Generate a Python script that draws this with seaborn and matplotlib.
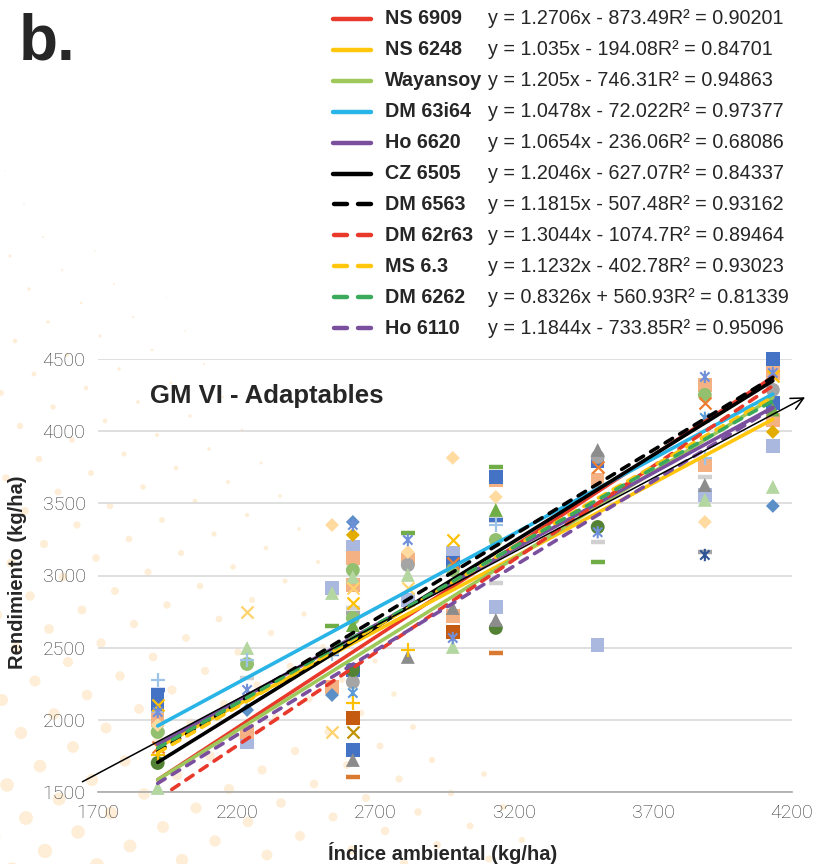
import numpy as np
import pandas as pd
import matplotlib
matplotlib.use("Agg")
import matplotlib.pyplot as plt
import seaborn as sns
from matplotlib.lines import Line2D
from matplotlib.path import Path

nan = np.nan

# ---------------- data ----------------
env_index = [1915, 2237, 2543, 2618, 2816, 2978, 3133, 3500, 3886, 4131]

varieties = ["NS 6909", "NS 6248", "Wayansoy", "DM 63i64", "Ho 6620", "CZ 6505",
             "DM 6563", "DM 62r63", "MS 6.3", "DM 6262", "Ho 6110"]
slopes = [1.2706, 1.035, 1.205, 1.0478, 1.0654, 1.2046, 1.1815, 1.3044, 1.1232, 0.8326, 1.1844]
intercepts = [-873.49, -194.08, -746.31, -72.022, -236.06, -627.07, -507.48, -1074.7, -402.78, 560.93, -733.85]
r_squared = [0.90201, 0.84701, 0.94863, 0.97377, 0.68086, 0.84337, 0.93162, 0.89464, 0.93023, 0.81339, 0.95096]

# trend line values as drawn in the chart, at the lowest and highest environment
trend_start = [1585, 1809, 1585, 1958, 1830, 1705, 1779, 1452, 1771, 1805, 1560]
trend_end = [4375, 4082, 4232, 4257, 4165, 4349, 4373, 4314, 4237, 4210, 4159]

# observed yields (kg/ha) per marker series, one value per environment
blue_square      = [2150, nan, nan, 1791, nan, 3090, 3683, 3790, nan, 4500]
blue_square_b    = [2110, nan, nan, 2345, nan, nan, nan, nan, nan, 4196]
salmon_square    = [1999, 1916, 2228, 3122, 3110, 2720, 3660, 3662, 4320, 4403]
salmon_square_b  = [nan, nan, nan, 2934, nan, nan, nan, nan, 3766, 4078]
periwinkle_square = [2020, 1847, 2914, 3198, 2830, 3156, 2782, 2519, 3558, 3898]
brown_square     = [nan, nan, nan, 2013, nan, 2609, nan, nan, nan, nan]
gray_circle      = [nan, nan, nan, 2262, 3073, nan, nan, 3822, nan, 4286]
green_circle     = [1916, 2387, nan, 3038, nan, 3038, 3246, nan, 4251, nan]
green_circle_b   = [nan, nan, nan, 2706, nan, nan, nan, nan, nan, nan]
dkgreen_circle   = [1701, nan, nan, 2345, nan, nan, 2637, 3336, nan, nan]
gold_x           = [2103, nan, nan, 2810, nan, 3246, nan, nan, nan, 4380]
ltgold_x         = [nan, 2747, 1916, 2914, 2914, nan, nan, nan, nan, nan]
dkgold_x         = [nan, nan, nan, 1916, nan, nan, nan, nan, nan, nan]
orange_x         = [1812, nan, nan, nan, nan, 3087, nan, 3752, 4196, nan]
blue_asterisk    = [2054, 2207, nan, 3350, 3246, 2567, nan, 3300, 4376, 4403]
ltblue_asterisk  = [nan, nan, nan, 2186, nan, nan, nan, nan, 4092, nan]
dkblue_asterisk  = [nan, nan, nan, nan, nan, nan, nan, nan, 3142, nan]
ltblue_plus      = [2276, 2415, 2456, nan, nan, nan, 3350, nan, 3815, nan]
gold_plus        = [1756, nan, nan, 2117, 2484, nan, nan, nan, nan, nan]
ltyellow_diamond = [1964, nan, 3350, nan, 3163, 3815, 3544, nan, 3371, nan]
gold_diamond     = [nan, nan, nan, 3281, nan, nan, nan, nan, nan, 3995]
blue_diamond     = [nan, 2068, 2172, 3371, nan, nan, nan, nan, nan, 3482]
ltgreen_triangle = [1528, 2498, 2879, 2990, 3004, 2505, nan, nan, 3524, 3614]
gray_triangle    = [nan, nan, nan, 1722, 2436, 2775, 2692, 3870, 3627, nan]
green_triangle   = [nan, nan, nan, 2657, nan, nan, 3454, nan, nan, 4150]
ltgray_dash      = [1916, 2290, nan, 2775, nan, 2740, 2948, 3232, 3683, nan]
gray_dash        = [nan, nan, nan, 2740, nan, nan, 3385, nan, 3160, nan]
orange_dash      = [nan, nan, nan, 1604, 3110, nan, 2463, nan, nan, nan]
green_dash       = [nan, nan, 2650, nan, 3295, nan, 3752, 3094, nan, nan]
blue_dash        = [2207, nan, 2456, nan, nan, nan, 3385, nan, nan, nan]

# 1:1 reference arrow (x, y in kg/ha)
ref_start = (1635, 1562)
ref_end = (4256, 4244)

x_ticks = [1700, 2200, 2700, 3200, 3700, 4200]
y_ticks = [1500, 2000, 2500, 3000, 3500, 4000, 4500]

# ---------------- styles ----------------
asterisk = Path([(0, -1), (0, 1), (-0.75, -0.75), (0.75, 0.75), (-0.75, 0.75), (0.75, -0.75)],
                [Path.MOVETO, Path.LINETO] * 3)

marker_series = [
    (ltgray_dash, "_", "#D0D0D0", 110, 3.2),
    (gray_dash, "_", "#A5A5A5", 110, 3.2),
    (orange_dash, "_", "#DA7A30", 110, 3.2),
    (green_dash, "_", "#70AD47", 110, 3.2),
    (blue_dash, "_", "#4472C4", 110, 3.2),
    (periwinkle_square, "s", "#AAB8E0", 95, 0),
    (salmon_square, "s", "#F4B183", 95, 0),
    (salmon_square_b, "s", "#F4B183", 95, 0),
    (blue_square, "s", "#4472C4", 95, 0),
    (blue_square_b, "s", "#4472C4", 95, 0),
    (brown_square, "s", "#C55A11", 95, 0),
    (gray_circle, "o", "#A5A5A5", 100, 0),
    (green_circle, "o", "#92C06E", 100, 0),
    (green_circle_b, "o", "#92C06E", 100, 0),
    (dkgreen_circle, "o", "#548235", 100, 0),
    (ltyellow_diamond, "D", "#FFDBA0", 50, 0),
    (gold_diamond, "D", "#E3AC00", 50, 0),
    (blue_diamond, "D", "#5B8FC8", 50, 0),
    (ltgreen_triangle, "^", "#B4D6A0", 100, 0),
    (gray_triangle, "^", "#8C8C8C", 100, 0),
    (green_triangle, "^", "#70AD47", 100, 0),
    (gold_x, "x", "#FFC000", 75, 1.6),
    (ltgold_x, "x", "#FFD36B", 75, 1.6),
    (dkgold_x, "x", "#BF9000", 75, 1.6),
    (orange_x, "x", "#ED7D31", 75, 1.6),
    (blue_asterisk, asterisk, "#6F8FD8", 80, 1.5),
    (ltblue_asterisk, asterisk, "#5B9BD5", 80, 1.5),
    (dkblue_asterisk, asterisk, "#2F5597", 80, 1.5),
    (ltblue_plus, "+", "#9DC3E6", 90, 1.6),
    (gold_plus, "+", "#FFC000", 90, 1.6),
]

line_colors = ["#E8392B", "#FFC60B", "#9FC85A", "#28B4E6", "#7A4F9E", "#000000",
               "#000000", "#E8392B", "#FFC60B", "#3BAA5B", "#7A4F9E"]
line_dashed = [False] * 6 + [True] * 5

# ---------------- figure ----------------
sns.set_theme(style="white")
plt.rcParams["font.family"] = ["Liberation Sans", "DejaVu Sans"]

W, H = 815, 864
fig = plt.figure(figsize=(W / 100, H / 100), dpi=100)

# decorative dotted backdrop (page ornament, not data)
bg = fig.add_axes([0, 0, 1, 1], zorder=-5)
bg.set_xlim(0, W)
bg.set_ylim(H, 0)
bg.axis("off")
ii, jj = np.meshgrid(np.arange(-30, 31), np.arange(-30, 31))
px = 5 + 19 * ii + 33 * jj
py = 171 + 33 * ii - 19 * jj
u = py - 0.8 * px
diam = (u - 100) / 50.0
keep = (px > -20) & (px < W) & (py > 0) & (py < H + 20) & (diam > 1.2) & (px < 0.6 * py + 20)
bg.scatter(px[keep], py[keep], s=(diam[keep] * 0.72) ** 2, color="#FEEBD0",
           alpha=0.85, linewidths=0)

ax = fig.add_axes([98 / W, 1 - 792 / H, 694 / W, 433 / H])
ax.set_facecolor("none")
ax.set_xlim(1700, 4200)
ax.set_ylim(1500, 4500)

# scatter markers
for values, mk, col, size, lw in marker_series:
    df = pd.DataFrame({"env": env_index, "yield": values}).dropna()
    filled = isinstance(mk, str) and mk in ("s", "o", "D", "^")
    if filled:
        sns.scatterplot(data=df, x="env", y="yield", ax=ax, marker=mk, color=col,
                        s=size, linewidth=0, edgecolor="none", zorder=3, legend=False,
                        clip_on=False)
    elif isinstance(mk, Path):
        sns.scatterplot(data=df, x="env", y="yield", ax=ax, marker=mk, color=col,
                        s=size, linewidth=lw, edgecolor=col, facecolor="none",
                        zorder=3, legend=False, clip_on=False)
    else:
        sns.scatterplot(data=df, x="env", y="yield", ax=ax, marker=mk, color=col,
                        s=size, linewidth=lw, zorder=3, legend=False, clip_on=False)

# trend lines
x_lo, x_hi = min(env_index), max(env_index)
for y0, y1, col, dashed in zip(trend_start, trend_end, line_colors, line_dashed):
    ln, = ax.plot([x_lo, x_hi], [y0, y1], color=col, lw=2.6, zorder=5,
                  solid_capstyle="round", dash_capstyle="round")
    if dashed:
        ln.set_dashes((2.4, 2.3))

# 1:1 reference arrow
ax.annotate("", xy=ref_end, xytext=ref_start, xycoords="data",
            arrowprops=dict(arrowstyle="->", color="black", lw=1.1, mutation_scale=22),
            annotation_clip=False, zorder=6)

# axes styling
ax.set_xticks(x_ticks)
ax.set_yticks(y_ticks)
ax.grid(axis="y", color="#D9D9D9", lw=1.2, zorder=0)
ax.grid(axis="x", visible=False)
for s in ["top", "right", "left"]:
    ax.spines[s].set_visible(False)
ax.spines["bottom"].set_color("#AAAAAA")
ax.spines["bottom"].set_linewidth(1.2)
ax.tick_params(axis="x", direction="out", length=5, width=1.2, color="#AAAAAA", pad=4,
               labelsize=14, labelcolor="#333333")
ax.tick_params(axis="y", length=0, pad=9, labelsize=14, labelcolor="#333333")
for lab in ax.get_xticklabels() + ax.get_yticklabels():
    lab.set_fontfamily(["Roboto", "Liberation Sans"])
    lab.set_fontweight("light")
ax.set_xlabel("")
ax.set_ylabel("")

fig.text(18 / W, 1 - 572 / H, "Rendimiento (kg/ha)", rotation=90, ha="center",
         va="center", fontsize=14.5, fontweight="bold")
fig.text(443 / W, 1 - 853 / H, "Índice ambiental (kg/ha)", ha="center",
         va="center", fontsize=14.5, fontweight="bold")

ax.text(0.075, 0.9145, "GM VI - Adaptables", transform=ax.transAxes, fontsize=18.5,
        fontweight="bold", va="center", ha="left")

fig.text(19 / W, 1 - 60 / H, "b.", fontsize=46, fontweight="bold", va="baseline",
         ha="left")

# legend rows
row0, row_step = 19, 30.9
for i, (name, m, b, r2, col, dashed) in enumerate(zip(varieties, slopes, intercepts,
                                                       r_squared, line_colors, line_dashed)):
    yf = 1 - (row0 + i * row_step) / H
    sign = "-" if b < 0 else "+"
    eq = f"y = {m}x {sign} {abs(b)}R² = {r2}"
    if dashed:
        fig.add_artist(Line2D([334 / W, 347 / W], [yf, yf], color=col, lw=3.2,
                              solid_capstyle="round"))
        fig.add_artist(Line2D([358 / W, 371 / W], [yf, yf], color=col, lw=3.2,
                              solid_capstyle="round"))
    else:
        fig.add_artist(Line2D([333 / W, 371 / W], [yf, yf], color=col, lw=3.2,
                              solid_capstyle="round"))
    fig.text(385 / W, yf, name, fontsize=14.2, fontweight="bold", va="center", ha="left")
    fig.text(488 / W, yf, eq, fontsize=14.2, va="center", ha="left")

fig.savefig("out.png", dpi=100, facecolor="white")
